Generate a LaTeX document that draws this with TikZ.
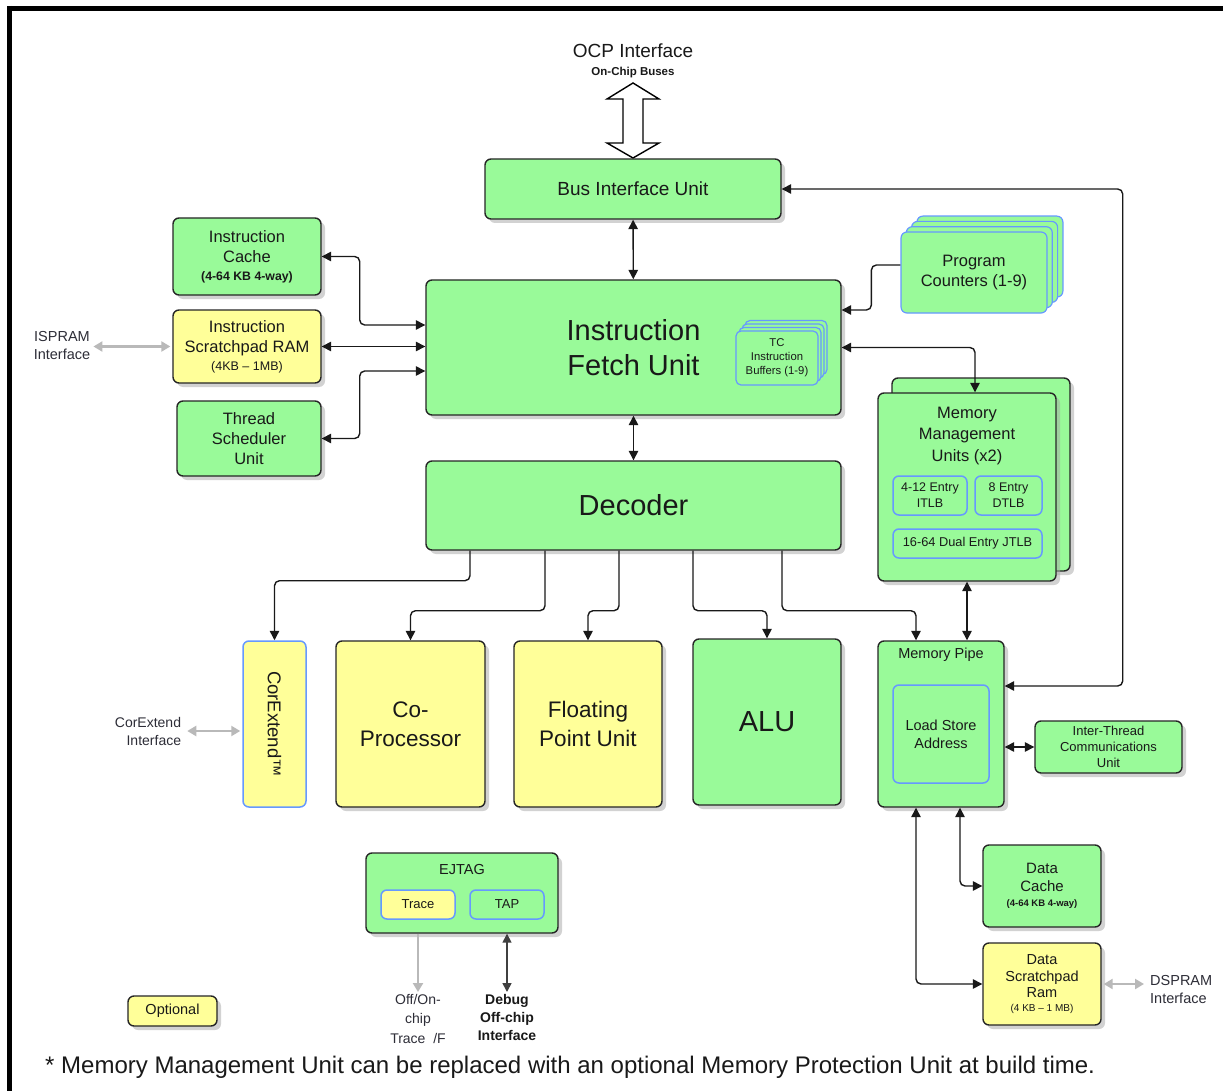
\documentclass[tikz,border=0pt]{standalone}
\usepackage{fontspec}
\setmainfont{Liberation Sans}
\usetikzlibrary{arrows.meta,shadows,calc}
\definecolor{grn}{RGB}{153,250,153}
\definecolor{yel}{RGB}{255,255,153}
\definecolor{blu}{RGB}{102,153,255}
\definecolor{txt}{RGB}{25,25,25}
\definecolor{lbl}{RGB}{45,45,55}
\definecolor{gry}{RGB}{185,185,185}
\newcommand\fsz[2]{\fontsize{#1}{#2}\selectfont}
\begin{document}
\begin{tikzpicture}[x=1pt,y=-1pt,
  sz/.style 2 args={minimum width=#1, minimum height=#2},
  fs/.style 2 args={font=\fontsize{#1}{#2}\selectfont},
  blk/.style={draw=black!85, line width=1.4pt, rounded corners=6pt, fill=grn,
    drop shadow={shadow xshift=4pt,shadow yshift=-4pt,fill=black!35},
    align=center, inner sep=0pt, text=txt},
  yblk/.style={blk, fill=yel},
  bblk/.style={draw=blu, line width=1.5pt, rounded corners=6pt, fill=grn, align=center, inner sep=0pt, text=txt},
  ybblk/.style={bblk, fill=yel},
  lab/.style={align=center, inner sep=1pt, text=lbl},
  con/.style={draw=black!90, line width=1.4pt, rounded corners=5pt, >={Triangle[length=9.5pt,width=9.5pt]}},
  gcon/.style={draw=gry, line width=2.6pt, >={Triangle[length=9pt,width=10pt]}},
  dcon/.style={draw=black!75, line width=1.6pt, >={Triangle[length=9pt,width=9pt]}}
]
\useasboundingbox (0,0) rectangle (1223,1091);
\fill[white] (0,0) rectangle (1223,1091);
% border
\draw[line width=5pt] (7,8.5) -- (1223,8.5);
\draw[line width=5pt] (9.5,6) -- (9.5,1091);

% OCP interface
\node[lab, text=txt, fs={19}{22}] (ocp) at (633,51) {OCP Interface};
\node[lab, text=txt, fs={11.5}{13}] (ocs) at (633,73) {\bfseries On-Chip Buses};
\draw[line width=1.4pt, fill=white] (633,83) -- (659,99) -- (643,99) -- (643,143) -- (659,143) -- (633,158)
  -- (607,143) -- (623,143) -- (623,99) -- (607,99) -- cycle;

% main blocks
\node[blk, sz={296pt}{60pt}, fs={19}{22}] (biu) at (633,189) {Bus Interface Unit};
\node[blk, sz={148pt}{77pt}, fs={16.5}{20}] (ic) at (247,256.5) {Instruction\\Cache\\[-2pt]\fsz{12.3}{14}\bfseries (4-64 KB 4-way)};
\node[yblk, sz={148pt}{73pt}, fs={16.5}{20}] (isr) at (247,346.5) {Instruction\\Scratchpad RAM\\[-2pt]\fsz{12.5}{14}(4KB -- 1MB)};
\node[blk, sz={144pt}{75pt}, fs={16.5}{20}] (tsu) at (249,438.5) {Thread\\Scheduler\\Unit};
\node[blk, sz={415pt}{135pt}, fs={29}{35}] (ifu) at (633.5,347.5) {Instruction\\Fetch Unit};
\node[blk, sz={415pt}{89pt}, fs={29}{35}] (dec) at (633.5,505.5) {Decoder};

% TC instruction buffers (stack)
\foreach \k in {3,2,1}
  \node[bblk, sz={82pt}{54pt}, line width=1.2pt, rounded corners=5pt] at ({777+3*\k},{358-3.5*\k}) {};
\node[bblk, sz={82pt}{54pt}, line width=1.2pt, rounded corners=5pt, fs={11.3}{14}] (tc) at (777,358) {TC\\Instruction\\Buffers (1-9)};

% Program counters (stack)
\foreach \k in {3,2,1}
  \node[bblk, sz={146pt}{81pt}, line width=1.2pt] at ({974+5.3*\k},{272.5-5.3*\k}) {};
\node[bblk, sz={146pt}{81pt}, line width=1.2pt, fs={16.5}{20}] (pc) at (974,272.5) {Program\\Counters (1-9)};

% MMU
\node[blk, sz={178pt}{193pt}] (mmub) at (981,474.5) {};
\node[blk, sz={178pt}{188pt}] (mmu) at (967,487) {};
\node[lab, text=txt, inner sep=0pt, fs={16.5}{21.5}] (mmut) at (967,436) {Memory\\Management\\Units (x2)};
\node[bblk, sz={74pt}{39pt}, fs={12.5}{16}] (itlb) at (930,495.5) {4-12 Entry\\ITLB};
\node[bblk, sz={67pt}{39pt}, fs={12.5}{16}] (dtlb) at (1008.5,495.5) {8 Entry\\DTLB};
\node[bblk, sz={149pt}{29pt}, fs={12.8}{16}] (jtlb) at (967.5,543.5) {16-64 Dual Entry JTLB};

% execution units
\node[ybblk, sz={63pt}{166pt}] (ce) at (274.5,724) {};
\node[rotate=-90, text=txt, inner sep=0pt, fs={18.5}{22}] (cet) at (274.5,724) {CorExtend™};
\node[yblk, sz={149pt}{166pt}, fs={22.5}{29}] (cop) at (410.5,724) {Co-\\Processor};
\node[yblk, sz={148pt}{166pt}, fs={22.5}{29}] (fpu) at (588,724) {Floating\\Point Unit};
\node[blk, sz={148pt}{166pt}, fs={29}{35}] (alu) at (767,722) {ALU};
\node[blk, sz={126pt}{166pt}] (mp) at (941,724) {};
\node[lab, text=txt, inner sep=0pt, fs={14.5}{18}] (mpt) at (941,655) {Memory Pipe};
\node[bblk, sz={96pt}{98pt}, fs={14.5}{18}] (lsa) at (941,734) {Load Store\\Address};
\node[blk, sz={147pt}{52pt}, fs={13}{16}] (itcu) at (1108.5,747) {Inter-Thread\\Communications\\Unit};

% data side
\node[blk, sz={118pt}{82pt}, fs={15}{18}] (dc) at (1042,886) {Data\\Cache\\[-3pt]\fsz{9.5}{12}\bfseries (4-64 KB 4-way)};
\node[yblk, sz={118pt}{82pt}, fs={14.5}{17.5}] (dsp) at (1042,984) {Data\\Scratchpad\\[-2pt]Ram\\[-3pt]\fsz{10}{13}(4 KB -- 1 MB)};

% EJTAG
\node[blk, sz={192pt}{80pt}] (ej) at (462,893) {};
\node[lab, text=txt, inner sep=0pt, fs={14.5}{18}] (ejt) at (462,870) {EJTAG};
\node[ybblk, sz={74pt}{29pt}, fs={13}{16}] (trace) at (418,904.5) {Trace};
\node[bblk, sz={74pt}{29pt}, fs={13}{16}] (tap) at (507,904.5) {TAP};

\node[yblk, sz={89pt}{30pt}, fs={14.5}{18}] (opt) at (172.5,1011) {Optional};

% external labels
\node[lab, inner sep=0pt, fs={14.5}{18}] (ispl) at (62,346) {ISPRAM\\Interface};
\node[lab, align=right, inner sep=0pt, fs={14}{18}] (cel) at (148,731) {CorExtend\\Interface};
\node[lab, align=left, inner sep=0pt, anchor=west, fs={14.5}{18}] (dspl) at (1150,989) {DSPRAM\\Interface};
\node[lab, inner sep=0pt, anchor=north, fs={14}{19.5}] (offon) at (418,994) {Off/On-\\chip\\Trace\ \ /F};
\node[lab, inner sep=0pt, anchor=north, text=txt, font=\fsz{14}{18}\bfseries] (dbg) at (507,994) {Debug\\Off-chip\\Interface};

% connectors
\draw[con,<->] (biu) -- (ifu);
\draw[con,<->] (ifu) -- (dec);
\draw[con,<->] (ic.east) -- ++(38,0) |- ([yshift=22.5pt]ifu.west);
\draw[con,<->] (isr.east) -- (isr.east -| ifu.west);
\draw[con,<->] (tsu.east) -- ++(38,0) |- ([yshift=-23.5pt]ifu.west);
\draw[con,->] ([yshift=7.5pt]pc.west) -- ++(-29,0) |- ([yshift=37.5pt]ifu.east);
\draw[con,<->] (ifu.east) -| ([xshift=8pt]mmu.north);
\draw[con,<->] (mmu.south) -- (mmu.south |- mp.north);

\draw[con,->] ([xshift=-163.5pt]dec.south) -- ++(0,30) -| (ce.north);
\draw[con,->] ([xshift=-88.5pt]dec.south) -- ++(0,60) -| (cop.north);
\draw[con,->] ([xshift=-14.5pt]dec.south) -- ++(0,60) -| (fpu.north);
\draw[con,->] ([xshift=59.5pt]dec.south) -- ++(0,60) -| (alu.north);
\draw[con,->] ([xshift=148.5pt]dec.south) -- ++(0,60) -| ([xshift=-25pt]mp.north);

\draw[con,<->] ([yshift=38pt]mp.east) -- ++(118,0) |- (biu.east);
\draw[con,<->] (itcu.west) -- (itcu.west -| mp.east);
\draw[con,<->] ([xshift=19pt]mp.south) |- (dc.west);
\draw[con,<->] ([xshift=-25pt]mp.south) |- (dsp.west);

\draw[gcon,<->] ([xshift=3pt]ispl.east |- isr.west) -- ([xshift=-2pt]isr.west);
\draw[gcon,<->] ([xshift=6pt]cel.east) -- ([xshift=-2pt]ce.west |- cel.east);
\draw[gcon,<->] ([xshift=2pt]dsp.east) -- ([xshift=-6pt]dspl.west |- dsp.east);
\draw[gcon,->] (trace |- ej.south) -- ([yshift=2pt]offon.north);
\draw[dcon,<->] (tap |- ej.south) -- ([yshift=2pt]dbg.north);

% footnote
\node[anchor=base west, inner sep=0pt, text=txt, fs={24}{28}] (fn) at (45,1073) {* Memory Management Unit can be replaced with an optional Memory Protection Unit at build time.};
\end{tikzpicture}
\end{document}
